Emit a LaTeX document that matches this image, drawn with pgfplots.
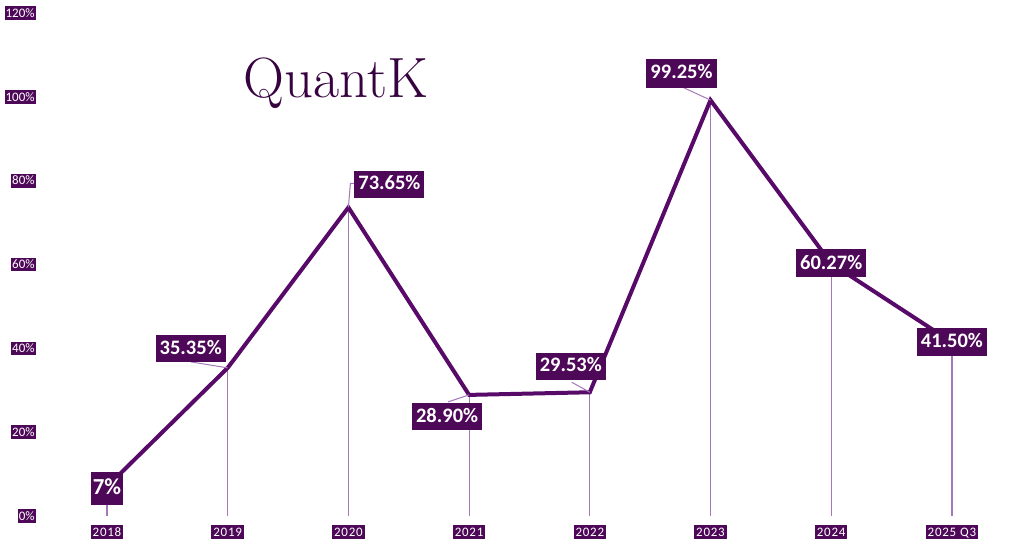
\documentclass[border=0pt]{standalone}
\usepackage{pgfplots}
\pgfplotsset{compat=1.18}
\usepackage{pgfplotstable}
\usepackage{fontspec}
\setsansfont{Carlito}
\newfontfamily\tickfont[LetterSpace=6]{Carlito}
\definecolor{qdark}{RGB}{78,8,88}
\definecolor{qline}{RGB}{88,10,104}
\definecolor{qdrop}{RGB}{165,120,185}
\definecolor{qtitle}{RGB}{55,2,64}

\pgfplotstableread{
x y lab dx dy fs mh xs
0 7 7 0 -1 11.5 16.5 0.8
1 35.35 35.35 -18.5 9.5 10.3 13.5 2
2 73.65 73.65 20.5 11.5 10.3 13.5 2
3 28.90 28.90 -11 -11 10.3 13.5 2
4 29.53 29.53 -9.5 13 10.3 13.5 2
5 99.25 99.25 -14.5 13.5 10.3 14.5 2
6 60.27 60.27 0 0 10.3 14 2
7 41.50 41.50 0 0 10.3 14 2
}\datatable

\begin{document}
\begin{tikzpicture}
\begin{axis}[
  scale only axis, width=512bp, height=273.5bp,
  xmin=-0.8865, xmax=7.5974, ymin=-7.399, ymax=123.15,
  axis line style={draw=none}, major tick length=0pt,
  clip=false,
  xtick={0,...,7},
  xticklabels={2018,2019,2020,2021,2022,2023,2024,2025 Q3},
  ytick={0,20,...,120},
  yticklabels={0\%,20\%,40\%,60\%,80\%,100\%,120\%},
  xticklabel style={anchor=south, yshift=4bp, fill=qdark, text=white,
    font=\tickfont\fontsize{6.5}{7}\selectfont, inner xsep=1bp, inner ysep=0.8bp,
    text height=4.7bp, text depth=0.5bp},
  yticklabel style={anchor=east, xshift=18bp, fill=qdark, text=white,
    font=\sffamily\fontsize{6.5}{7}\selectfont, inner xsep=0.5bp, inner ysep=0.8bp,
    text height=4.7bp, text depth=0.5bp},
]
\addplot[ycomb, qdrop, line width=0.6bp, no marks] table[x=x,y=y]{\datatable};
\addplot[qline, line width=2bp, no marks, line join=miter] table[x=x,y=y]{\datatable};
% leader lines
\draw[qdrop, line width=0.5bp] (axis cs:1,35.35) -- ++(-18.5bp,3bp);
\draw[qdrop, line width=0.5bp] (axis cs:2,73.65) -- ++(1bp,12bp) -- ++(2bp,0bp);
\draw[qdrop, line width=0.5bp] (axis cs:3,28.90) -- ++(-10.5bp,-3.5bp);
\draw[qdrop, line width=0.5bp] (axis cs:4,29.53) -- ++(-9bp,5bp);
\draw[qdrop, line width=0.5bp] (axis cs:5,99.25) -- ++(-14bp,6.5bp);
\addplot[draw=none, no marks,
  nodes near coords={\pgfplotspointmeta\%},
  point meta=explicit symbolic,
  visualization depends on={\thisrow{dx}\as\dx},
  visualization depends on={\thisrow{dy}\as\dy},
  visualization depends on={\thisrow{fs}\as\fs},
  visualization depends on={\thisrow{mh}\as\mh},
  visualization depends on={\thisrow{xs}\as\xs},
  every node near coord/.append style={anchor=center, fill=qdark, text=white,
    font=\sffamily\bfseries\fontsize{\fs}{\fs}\selectfont,
    xshift=\dx bp, yshift=\dy bp, minimum height=\mh bp,
    inner xsep=\xs bp, inner ysep=0pt, text height=0.66em, text depth=0.1em},
] table[x=x,y=y,meta=lab]{\datatable};
\node[font=\fontsize{28.5}{28.5}\selectfont, text=qtitle] at (axis cs:1.897,103.4) {QuantK};
\end{axis}
\pgfresetboundingbox
\useasboundingbox (0,0) rectangle (512bp,273.5bp);
\end{tikzpicture}
\end{document}
